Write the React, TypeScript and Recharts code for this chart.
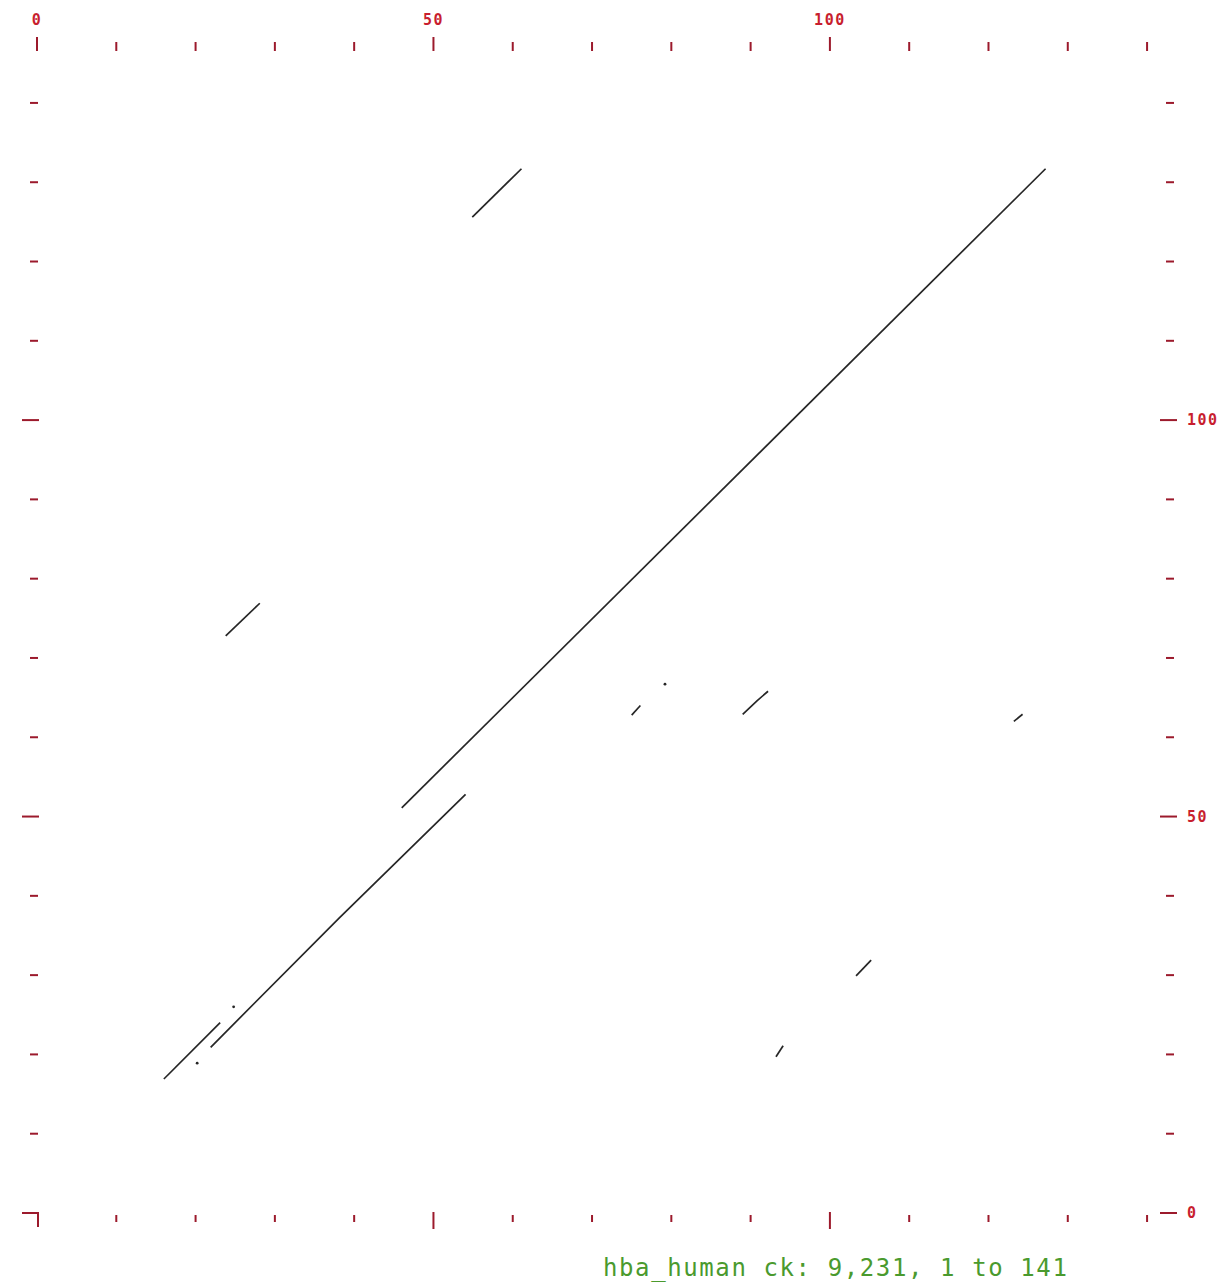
import React from "react";
import { ComposedChart, Line, Scatter, XAxis, YAxis } from "recharts";

// hba_human vs. itself style dot plot: diagonal runs of matching windows
const X_TICKS = [0, 10, 20, 30, 40, 50, 60, 70, 80, 90, 100, 110, 120, 130, 140];
const Y_TICKS = [0, 10, 20, 30, 40, 50, 60, 70, 80, 90, 100, 110, 120, 130, 140];
const MAJOR = [0, 50, 100];

// each run is a list of [x, y] residue positions
const RUNS: [number, number][][] = [
  [[46, 51.1], [127.2, 131.7]],
  [[16, 16.9], [23.1, 24]],
  [[21.9, 20.9], [38.1, 37.2], [54.05, 52.8]],
  [[54.9, 125.6], [61.1, 131.7]],
  [[23.8, 72.8], [28.1, 76.9]],
  [[75, 62.8], [76.1, 64]],
  [[89, 62.9], [90.8, 64.6], [92.2, 65.8]],
  [[123.2, 62], [124.3, 62.9]],
  [[103.3, 29.9], [105.2, 31.9]],
  [[93.2, 19.7], [94.1, 21.1]],
];

// isolated single-window hits
const HITS: [number, number][] = [
  [20.2, 18.9],
  [24.8, 26],
  [79.2, 66.7],
];

const runData = RUNS.map((r) => r.map(([x, y]) => ({ x, y })));
const hitData = HITS.map(([x, y]) => ({ x, y }));

const TICK = "#9c1a2c";
const LABEL = "#c81e2e";
const INK = "#262626";
const MONO = "'DejaVu Sans Mono', monospace";

const TopTick = ({ x, payload }: any) => {
  const major = MAJOR.includes(payload.value);
  return (
    <g>
      <line x1={x} x2={x} y1={major ? 37 : 42} y2={51} stroke={TICK} strokeWidth={2} />
      {major && (
        <text x={x} y={25} textAnchor="middle" fill={LABEL} fontSize={15} fontWeight="bold"
          fontFamily={MONO} letterSpacing={1.5}>
          {payload.value}
        </text>
      )}
    </g>
  );
};

const BottomTick = ({ x, payload }: any) => {
  const v = payload.value;
  if (v === 0) return <line x1={x + 1} x2={x + 1} y1={1213} y2={1227} stroke={TICK} strokeWidth={2} />;
  const major = MAJOR.includes(v);
  return <line x1={x} x2={x} y1={major ? 1212 : 1215} y2={major ? 1229 : 1222} stroke={TICK} strokeWidth={2} />;
};

const LeftTick = ({ y, payload }: any) => {
  const major = MAJOR.includes(payload.value);
  return <line x1={major ? 22 : 30} x2={major ? 39 : 38} y1={y} y2={y} stroke={TICK} strokeWidth={2} />;
};

const RightTick = ({ y, payload }: any) => {
  const major = MAJOR.includes(payload.value);
  return (
    <g>
      <line x1={major ? 1160 : 1166} x2={major ? 1177 : 1174} y1={y} y2={y} stroke={TICK} strokeWidth={2} />
      {major && (
        <text x={1187} y={y + 5} fill={LABEL} fontSize={15} fontWeight="bold" fontFamily={MONO} letterSpacing={1.5}>
          {payload.value}
        </text>
      )}
    </g>
  );
};

const Hit = ({ cx, cy }: any) => <circle cx={cx} cy={cy} r={1.4} fill={INK} />;

export default function App() {
  return (
    <div style={{ position: "absolute", left: 0, top: 0, width: 1231, height: 1285, background: "#fff" }}>
      <ComposedChart width={1231} height={1285} margin={{ top: 35, right: 16, bottom: 42, left: 7 }}>
        <XAxis xAxisId="top" orientation="top" type="number" dataKey="x" domain={[0, 141]} ticks={X_TICKS}
          interval={0} height={60} axisLine={false} tickLine={false} tick={<TopTick />} />
        <XAxis xAxisId="bottom" orientation="bottom" type="number" dataKey="x" domain={[0, 141]} ticks={X_TICKS}
          interval={0} height={30} axisLine={false} tickLine={false} tick={<BottomTick />} />
        <YAxis yAxisId="left" type="number" dataKey="y" domain={[0, 141]} ticks={Y_TICKS}
          interval={0} width={30} axisLine={false} tickLine={false} tick={<LeftTick />} />
        <YAxis yAxisId="right" orientation="right" type="number" dataKey="y" domain={[0, 141]} ticks={Y_TICKS}
          interval={0} width={60} axisLine={false} tickLine={false} tick={<RightTick />} />
        {runData.map((d, i) => (
          <Line key={i} data={d} xAxisId="top" yAxisId="left" type="linear" dataKey="y" stroke={INK}
            strokeWidth={1.7} dot={false} activeDot={false} isAnimationActive={false} />
        ))}
        {/* hits go through the bottom/right pair so those axes get drawn too */}
        <Scatter data={hitData} xAxisId="bottom" yAxisId="right" shape={<Hit />} isAnimationActive={false} />
      </ComposedChart>
      <div style={{ position: "absolute", left: 603, top: 1254, color: "#4a9a2e", fontFamily: MONO,
        fontSize: 24, letterSpacing: 1.6, whiteSpace: "nowrap" }}>
        hba_human ck: 9,231, 1 to 141
      </div>
    </div>
  );
}
